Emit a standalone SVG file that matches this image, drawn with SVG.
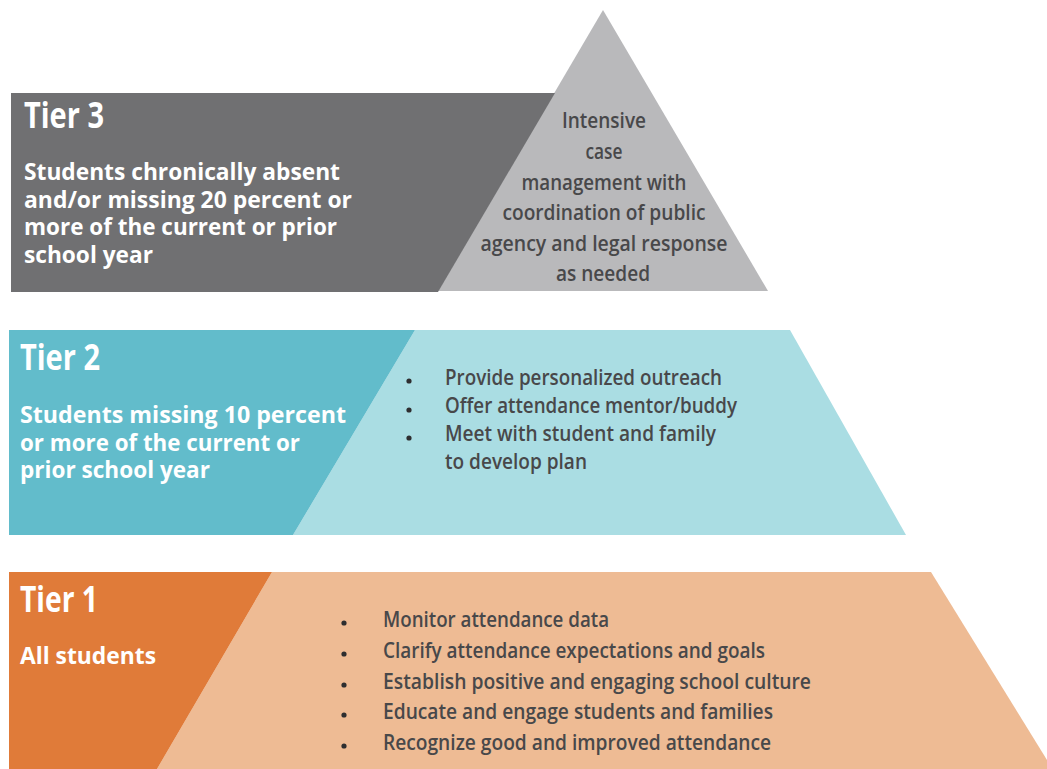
<svg xmlns="http://www.w3.org/2000/svg" width="1047" height="769" viewBox="0 0 1047 769">
<style>
.h{font-family:"Open Sans","Liberation Sans",sans-serif;font-weight:700;fill:#ffffff;font-size:35px}
.d{font-family:"Open Sans","Liberation Sans",sans-serif;font-weight:700;fill:#ffffff;font-size:23px}
.b{font-family:"Open Sans","Liberation Sans",sans-serif;font-weight:600;fill:#48484a;font-size:21px}
.c{text-anchor:middle}
</style>
<rect width="1047" height="769" fill="#ffffff"/>
<g id="tier3">
<polygon points="603,10 768,291 438,291" fill="#b9b9bb"/>
<polygon points="11,93 555,93 438,292 11,292" fill="#707072"/>
<text class="h" x="24" y="128" textLength="80" lengthAdjust="spacingAndGlyphs">Tier 3</text>
<text class="d" x="24" y="180" textLength="316" lengthAdjust="spacingAndGlyphs">Students chronically absent</text>
<text class="d" x="24" y="208" textLength="328" lengthAdjust="spacingAndGlyphs">and/or missing 20 percent or</text>
<text class="d" x="24" y="235" textLength="313" lengthAdjust="spacingAndGlyphs">more of the current or prior</text>
<text class="d" x="24" y="263" textLength="129" lengthAdjust="spacingAndGlyphs">school year</text>
<text class="b c" x="604" y="128" textLength="84" lengthAdjust="spacingAndGlyphs">Intensive</text>
<text class="b c" x="604" y="159" textLength="37" lengthAdjust="spacingAndGlyphs">case</text>
<text class="b c" x="604" y="190" textLength="165" lengthAdjust="spacingAndGlyphs">management with</text>
<text class="b c" x="604" y="220" textLength="203" lengthAdjust="spacingAndGlyphs">coordination of public</text>
<text class="b c" x="604" y="251" textLength="247" lengthAdjust="spacingAndGlyphs">agency and legal response</text>
<text class="b c" x="603" y="281" textLength="94" lengthAdjust="spacingAndGlyphs">as needed</text>
</g>
<g id="tier2">
<polygon points="415,330 790,330 906,535 293,535" fill="#aadde3"/>
<polygon points="9,330 415,330 293,535 9,535" fill="#62bccb"/>
<text class="h" x="20" y="370" textLength="80" lengthAdjust="spacingAndGlyphs">Tier 2</text>
<text class="d" x="20" y="423" textLength="326" lengthAdjust="spacingAndGlyphs">Students missing 10 percent</text>
<text class="d" x="20" y="451" textLength="280" lengthAdjust="spacingAndGlyphs">or more of the current or</text>
<text class="d" x="20" y="478" textLength="190" lengthAdjust="spacingAndGlyphs">prior school year</text>
<circle cx="409" cy="381" r="2.6" fill="#2e2e30"/>
<circle cx="409" cy="410" r="2.6" fill="#2e2e30"/>
<circle cx="409" cy="438" r="2.6" fill="#2e2e30"/>
<text class="b" x="445" y="385" textLength="277" lengthAdjust="spacingAndGlyphs">Provide personalized outreach</text>
<text class="b" x="445" y="413" textLength="292" lengthAdjust="spacingAndGlyphs">Offer attendance mentor/buddy</text>
<text class="b" x="445" y="441" textLength="271" lengthAdjust="spacingAndGlyphs">Meet with student and family</text>
<text class="b" x="445" y="469" textLength="142" lengthAdjust="spacingAndGlyphs">to develop plan</text>
</g>
<g id="tier1">
<polygon points="272,572 931,572 1047,760 1047,769 157,769" fill="#eebb94"/>
<polygon points="9,572 272,572 157,769 9,769" fill="#e07b39"/>
<text class="h" x="20" y="612" textLength="78" lengthAdjust="spacingAndGlyphs">Tier 1</text>
<text class="d" x="20" y="664" textLength="136" lengthAdjust="spacingAndGlyphs">All students</text>
<circle cx="344" cy="623" r="2.6" fill="#2e2e30"/>
<circle cx="344" cy="654" r="2.6" fill="#2e2e30"/>
<circle cx="344" cy="685" r="2.6" fill="#2e2e30"/>
<circle cx="344" cy="715" r="2.6" fill="#2e2e30"/>
<circle cx="344" cy="746" r="2.6" fill="#2e2e30"/>
<text class="b" x="383" y="627" textLength="226" lengthAdjust="spacingAndGlyphs">Monitor attendance data</text>
<text class="b" x="383" y="658" textLength="382" lengthAdjust="spacingAndGlyphs">Clarify attendance expectations and goals</text>
<text class="b" x="383" y="689" textLength="428" lengthAdjust="spacingAndGlyphs">Establish positive and engaging school culture</text>
<text class="b" x="383" y="719" textLength="390" lengthAdjust="spacingAndGlyphs">Educate and engage students and families</text>
<text class="b" x="383" y="750" textLength="388" lengthAdjust="spacingAndGlyphs">Recognize good and improved attendance</text>
</g>
<g id="connectors"/>
</svg>
